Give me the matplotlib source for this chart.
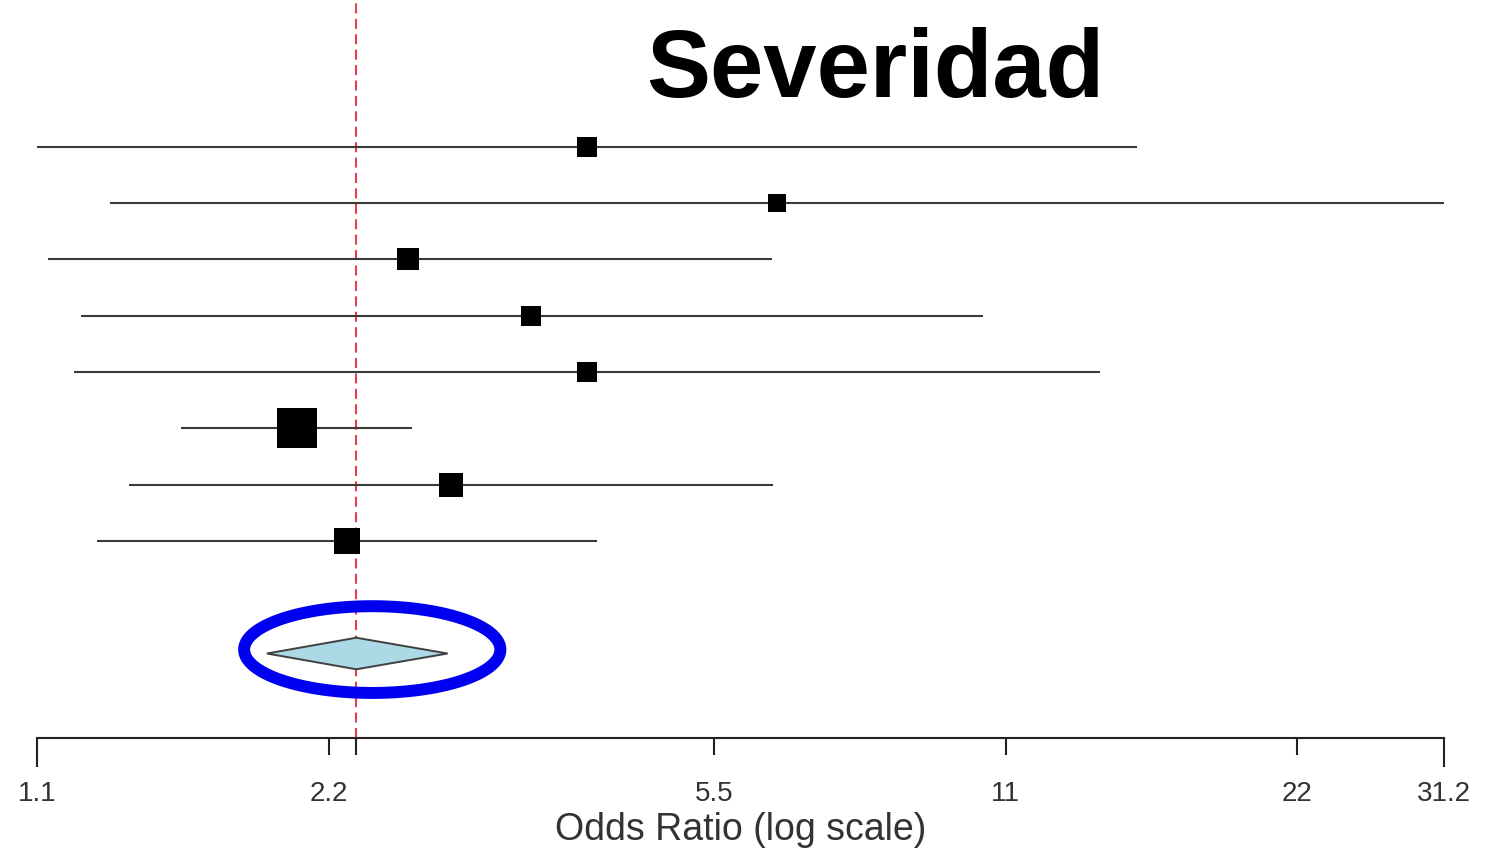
import numpy as np
import matplotlib
matplotlib.use("Agg")
import matplotlib.pyplot as plt
from matplotlib.patches import Polygon

plt.rcParams['font.family'] = ['Liberation Sans', 'DejaVu Sans']

# Study estimates (odds ratios with 95% CI), top to bottom
study_or = [4.07, 6.39, 2.66, 3.56, 4.07, 2.04, 2.94, 2.30]
study_lo = [1.10, 1.31, 1.13, 1.22, 1.20, 1.55, 1.37, 1.27]
study_hi = [15.05, 31.2, 6.32, 10.43, 13.78, 2.68, 6.33, 4.16]
study_weight = [7.9, 6.4, 9.6, 7.9, 7.9, 33.3, 12.4, 14.5]

# Pooled random-effects estimate
pooled_or = 2.35
pooled_lo = 1.90
pooled_hi = 2.92

tick_values = [1.1, 2.2, 5.5, 11, 22, 31.2]
tick_labels = ["1.1", "2.2", "5.5", "11", "22", "31.2"]

W, H = 1503, 853
fig = plt.figure(figsize=(W / 100, H / 100), dpi=100)
ax_left, ax_right = 37 / W, 1444 / W
ax_bottom = (H - 739) / H
ax = fig.add_axes([ax_left, ax_bottom, ax_right - ax_left, 1 - ax_bottom])
ax.set_xscale('log')
ax.set_xlim(1.1, 31.2)
ax.set_ylim(11.5, -1.62)

rows = np.arange(1, len(study_or) + 1)
pooled_row = 10

# CI lines and weighted squares
for y, est, lo, hi, w in zip(rows, study_or, study_lo, study_hi, study_weight):
    ax.plot([lo, hi], [y, y], color='#3a3a3a', lw=1.5, solid_capstyle='butt', zorder=2)
    ax.plot([est], [y], marker='s', color='black', markersize=5.1 * np.sqrt(w),
            markeredgewidth=0, zorder=3)

# Reference line at the pooled estimate
ax.axvline(pooled_or, color='#e8404a', lw=1.5, ls=(0, (4.8, 2.6)), zorder=1)

# Pooled diamond
dh = 0.28
diamond = Polygon([[pooled_lo, pooled_row], [pooled_or, pooled_row - dh],
                   [pooled_hi, pooled_row], [pooled_or, pooled_row + dh]],
                  closed=True, facecolor='#add8e6', edgecolor='#404040', lw=1.4, zorder=4)
ax.add_patch(diamond)

# Highlight ring around the pooled estimate
t = np.linspace(0, 2 * np.pi, 400, endpoint=False)
ex_c = np.sqrt(1.80 * 3.31)
ex_a = np.log(3.31 / 1.80) / 2
ex_y, ex_b = 9.93, 0.77
ring = Polygon(np.column_stack([ex_c * np.exp(ex_a * np.cos(t)), ex_y + ex_b * np.sin(t)]),
               closed=True, fill=False, edgecolor='#0000f0', lw=8.6, zorder=5)
ax.add_patch(ring)

# Axis styling
for s in ['top', 'right', 'left']:
    ax.spines[s].set_visible(False)
ax.spines['bottom'].set_color('#222222')
ax.spines['bottom'].set_linewidth(1.5)
ax.set_yticks([])
ax.xaxis.set_minor_locator(matplotlib.ticker.NullLocator())
ax.set_xticks(tick_values + [pooled_or])
ax.set_xticklabels(tick_labels + [""])
ax.tick_params(axis='x', length=12, width=1.5, color='#222222', labelsize=20,
               labelcolor='#333333', pad=18)
for tk, val in zip(ax.xaxis.get_major_ticks(), tick_values + [pooled_or]):
    if val in (1.1, 31.2):
        tk.tick1line.set_markersize(21)
ax.set_xlabel("Odds Ratio (log scale)", fontsize=27, color='#333333', labelpad=4)
ax.patch.set_alpha(0)

fig.text(875 / W, 1 - 97 / H, "Severidad", fontsize=69, fontweight='bold',
         ha='center', va='baseline', color='black')

fig.savefig("out.png", dpi=100, facecolor='white')
